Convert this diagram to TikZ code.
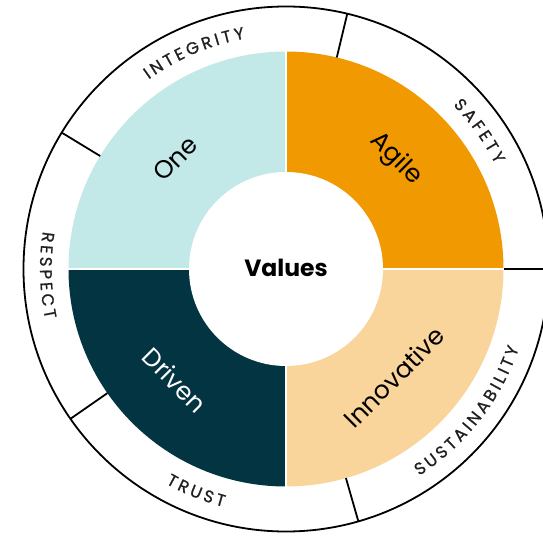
\documentclass[tikz,border=0pt]{standalone}
\usepackage{fontspec}
\setmainfont{Poppins}
\definecolor{quadBlue}{HTML}{C2E8E8}
\definecolor{quadOrange}{HTML}{F09900}
\definecolor{quadSand}{HTML}{F9D59B}
\definecolor{quadDark}{HTML}{033441}
\definecolor{ringGray}{HTML}{231F20}
\font\ringprim="Poppins:embolden=0.8" at 16.8pt
\newcommand\rtrack{3.2}
\newsavebox\chbox
\newdimen\chwd
\makeatletter
% Width in pt (plain number) of one ring letter, stored in \w
\newcommand\ringwidth[1]{%
  \setbox\chbox=\hbox{\ringprim #1}%
  \chwd=\wd\chbox
  \edef\w{\strip@pt\chwd}}
\makeatother
% Curved label: #1 mid angle, #2 direction (1 = clockwise, tops outward;
% -1 = counterclockwise, tops inward), #3 baseline radius, #4 letters, #5 name
\newcommand\ringlabel[5]{%
  \xdef\rtot{0}\xdef\rnum{0}%
  \foreach \ch in {#4}{%
    \ringwidth{\ch}%
    \pgfmathsetmacro\tmp{\rtot+\w}\xdef\rtot{\tmp}%
    \pgfmathtruncatemacro\tmp{\rnum+1}\xdef\rnum{\tmp}}%
  \pgfmathsetmacro\rstart{#1+(#2)*(\rtot+(\rnum-1)*\rtrack)/2/#3*180/pi}%
  \xdef\rstart{\rstart}%
  \xdef\racc{0}%
  \foreach \ch [count=\k] in {#4}{%
    \ringwidth{\ch}%
    \pgfmathsetmacro\a{\rstart-(#2)*(\racc+\w/2)/#3*180/pi}%
    \node[ringtext, rotate={\a-(#2)*90}] (#5-\k) at (\a:#3) {\ch};
    \pgfmathsetmacro\tmp{\racc+\w+\rtrack}\xdef\racc{\tmp}}%
}
\begin{document}
\begin{tikzpicture}[x=1pt,y=1pt,
  ringline/.style={line width=1.8pt, black},
  ringtext/.style={inner sep=0pt, anchor=base, text=ringGray, font=\ringprim},
  seglabel/.style={inner sep=0pt, font=\fontsize{25}{25}\selectfont},
  centerlabel/.style={inner sep=0pt, font=\bfseries\fontsize{23.5}{23.5}\selectfont}]
\useasboundingbox (-286,-266) rectangle (257,269);

% four quadrants of the inner ring
\fill[quadBlue]   (0,0) -- (90:217.5)  arc[start angle=90,  end angle=180, radius=217.5] -- cycle;
\fill[quadOrange] (0,0) -- (0:217.5)   arc[start angle=0,   end angle=90,  radius=217.5] -- cycle;
\fill[quadDark]   (0,0) -- (180:217.5) arc[start angle=180, end angle=270, radius=217.5] -- cycle;
\fill[quadSand]   (0,0) -- (270:217.5) arc[start angle=270, end angle=360, radius=217.5] -- cycle;
\draw[white, line width=2pt] (-219,0) -- (219,0) (0,-219) -- (0,219);
\fill[white] (0,0) circle[radius=97];

% outer ring and its dividers
\draw[ringline] (0,0) circle[radius=262.5];
\foreach \t in {0,76.5,148.7,214.8,286}
  \draw[ringline] (\t:217.5) -- (\t:262.5);

% labels
\node[centerlabel] (values) at (0,1) {Values};
\node[seglabel, rotate=45]  (one)    at (135:156) {One};
\node[seglabel, rotate=-45] (agile)  at (45:155) {Agile};
\node[seglabel, rotate=-45, text=white] (driven) at (225:157) {Driven};
\node[seglabel, rotate=45]  (innov)  at (315:153) {Innovative};

\ringlabel{113}{1}{234}{I,N,T,E,G,R,I,T,Y}{integrity}
\ringlabel{35.5}{1}{234}{S,A,F,E,T,Y}{safety}
\ringlabel{181.5}{-1}{246}{R,E,S,P,E,C,T}{respect}
\ringlabel{248}{-1}{246}{T,R,U,S,T}{trust}
\ringlabel{322}{-1}{246}{S,U,S,T,A,I,N,A,B,I,L,I,T,Y}{sustain}
\end{tikzpicture}
\end{document}
